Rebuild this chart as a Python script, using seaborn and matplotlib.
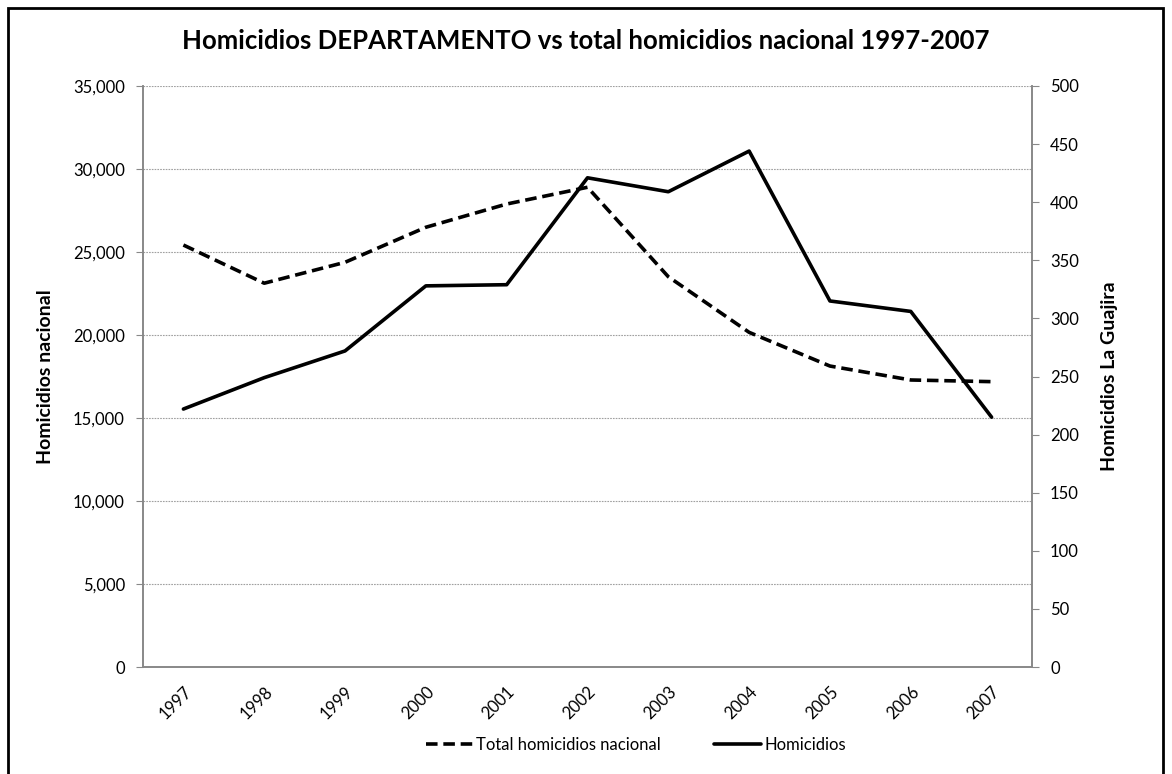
import numpy as np
import pandas as pd
import seaborn as sns
import matplotlib.pyplot as plt
from matplotlib.patches import Rectangle
from matplotlib.lines import Line2D

# datos
years = ["1997", "1998", "1999", "2000", "2001", "2002", "2003", "2004", "2005", "2006", "2007"]
total_nacional = [25420, 23120, 24380, 26490, 27890, 28900, 23510, 20160, 18130, 17290, 17190]
homicidios_guajira = [222, 249, 272, 328, 329, 421, 409, 444, 315, 306, 215]

df = pd.DataFrame({
    "pos": np.arange(len(years)),
    "year": years,
    "nacional": total_nacional,
    "guajira": homicidios_guajira,
})

sns.set_style("white")
plt.rcParams['font.family'] = ['Lato', 'DejaVu Sans']
plt.rcParams['text.color'] = 'black'
plt.rcParams['axes.labelcolor'] = 'black'
plt.rcParams['xtick.color'] = 'black'
plt.rcParams['ytick.color'] = 'black'

dash = (0, (3.2, 1.6))

fig = plt.figure(figsize=(11.72, 7.74), dpi=100)
ax = fig.add_axes([143/1172, 107/774, (1032-143)/1172, (667-86)/774])
ax2 = ax.twinx()

sns.lineplot(data=df, x="pos", y="nacional", ax=ax, color="black", lw=2.6,
             linestyle=dash, legend=False)
sns.lineplot(data=df, x="pos", y="guajira", ax=ax2, color="black", lw=2.6, legend=False)

ax.set_xlim(-0.5, len(years) - 0.5)
ax.set_ylim(0, 35000)
ax2.set_ylim(0, 500)
ax.set_yticks(np.arange(0, 35001, 5000))
ax.set_yticklabels([f"{v:,}" for v in range(0, 35001, 5000)], fontsize=12)
ax2.set_yticks(np.arange(0, 501, 50))
ax2.set_yticklabels([str(v) for v in range(0, 501, 50)], fontsize=12)

ax.set_xticks(df["pos"])
ax.set_xticklabels(years, rotation=45, fontsize=12, ha="right", rotation_mode="anchor")
ax.set_xticks(np.arange(-0.5, len(years), 1), minor=True)
ax.tick_params(axis="x", which="major", length=0, pad=12)
ax.tick_params(axis="x", which="minor", length=5, color="#888888", direction="out")
ax.tick_params(axis="y", length=5, color="#888888", labelcolor="black", direction="out", left=True, pad=8)
ax2.tick_params(axis="y", length=5, color="#888888", labelcolor="black", direction="out", right=True, pad=8)

ax.grid(axis="y", color="#a0a0a0", linestyle=(0, (1.5, 1)), lw=0.8)
ax.grid(axis="x", visible=False)
ax2.grid(False)

for a in (ax, ax2):
    a.spines["top"].set_visible(False)
    for side in ("left", "right", "bottom"):
        a.spines[side].set_color("#888888")
        a.spines[side].set_linewidth(1.2)

ax.set_xlabel("")
ax.set_ylabel("Homicidios nacional", fontsize=14, fontweight="bold", labelpad=14)
ax2.set_ylabel("Homicidios La Guajira", fontsize=14, fontweight="bold", labelpad=16)

fig.suptitle("Homicidios DEPARTAMENTO vs total homicidios nacional 1997-2007",
             fontsize=18.5, fontweight="bold", y=0.962)

handles = [Line2D([], [], color="black", lw=2.6, linestyle=dash),
           Line2D([], [], color="black", lw=2.6)]
fig.legend(handles, ["Total homicidios nacional", "Homicidios"], loc="center",
           bbox_to_anchor=(636/1172, 1 - 745/774), ncol=2, frameon=False, fontsize=12,
           handlelength=2.8, columnspacing=3.2, handletextpad=0.2)

fig.patches.append(Rectangle((8/1172, -0.05), (1163-8)/1172, 1.05 - 8/774,
                             transform=fig.transFigure, fill=False,
                             edgecolor="black", lw=2))

fig.savefig("out.png", dpi=100)
